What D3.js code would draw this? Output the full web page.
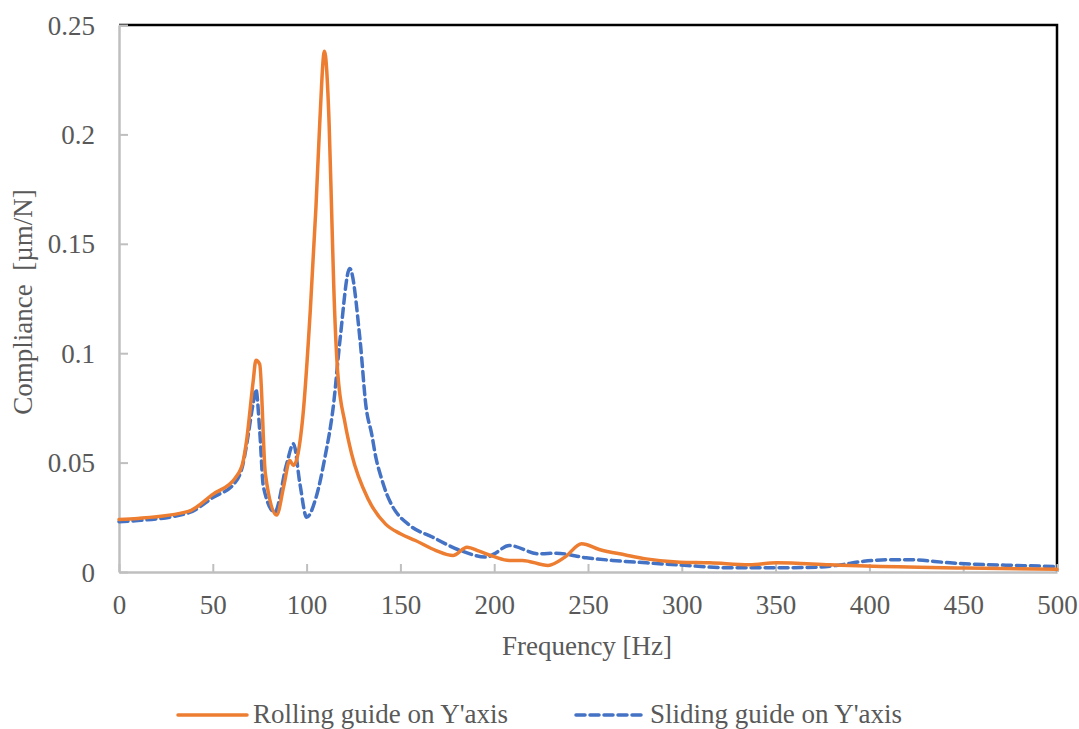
<!DOCTYPE html>
<html>
<head>
<meta charset="utf-8">
<script src="https://cdn.jsdelivr.net/npm/d3@7"></script>
<style>
  html, body { margin: 0; padding: 0; background: #fff; }
  svg { display: block; }
  text { font-family: "Liberation Serif", "Times New Roman", serif; fill: #595959; white-space: pre; }
</style>
</head>
<body>
<svg id="chart" width="1079" height="729"></svg>
<script>
// Frequency response: compliance vs excitation frequency
const rollingFreq = [0, 10, 37, 50, 62, 66, 68, 71.5, 73, 75, 78, 84, 88, 91, 93, 98, 102, 105, 107, 109.5, 112, 113.5, 114.5, 116.6, 120.5, 124, 133, 142, 150, 158, 169, 178, 185.5, 192, 200, 208, 215, 228.7, 237.7, 246.6, 256, 270, 281, 299, 315, 336, 350.6, 379, 398.5, 452, 500];
const rollingComp = [0.024, 0.0245, 0.0277, 0.0355, 0.043, 0.05, 0.06, 0.087, 0.0968, 0.095, 0.045, 0.026, 0.04, 0.051, 0.0487, 0.071, 0.12, 0.167, 0.205, 0.238, 0.205, 0.16, 0.13, 0.091, 0.068, 0.054, 0.033, 0.022, 0.0175, 0.0144, 0.0098, 0.0075, 0.0113, 0.0095, 0.007, 0.0053, 0.0053, 0.003, 0.0068, 0.0129, 0.0103, 0.0078, 0.006, 0.0045, 0.0042, 0.0033, 0.0042, 0.0033, 0.0027, 0.0018, 0.0012];

const slidingFreq = [0, 10, 37, 50, 62, 66, 68, 71.5, 73, 75, 77, 83, 89.4, 93, 96.5, 100, 105, 109.8, 114.2, 117.8, 123, 128.5, 131.7, 134.7, 137, 139.5, 143, 146, 155, 167, 182, 196, 200, 208, 224, 233, 249, 263, 281, 297, 327, 345, 372, 382.5, 397, 411, 421.6, 443, 460.7, 478.5, 500];
const slidingComp = [0.023, 0.0235, 0.027, 0.034, 0.041, 0.049, 0.058, 0.077, 0.0834, 0.0646, 0.0388, 0.0274, 0.0495, 0.0586, 0.04, 0.025, 0.034, 0.0525, 0.0754, 0.106, 0.1387, 0.106, 0.0754, 0.063, 0.052, 0.044, 0.035, 0.0297, 0.0213, 0.016, 0.0098, 0.0068, 0.0083, 0.0121, 0.0083, 0.0086, 0.0065, 0.0053, 0.0042, 0.0033, 0.0019, 0.0019, 0.0022, 0.003, 0.0049, 0.0056, 0.0056, 0.0042, 0.0034, 0.003, 0.0025];

const xTicks = [0, 50, 100, 150, 200, 250, 300, 350, 400, 450, 500];
const yTicks = [0, 0.05, 0.1, 0.15, 0.2, 0.25];
const yTickLabels = ["0", "0.05", "0.1", "0.15", "0.2", "0.25"];

const seriesNames = ["Rolling guide on Y'axis", "Sliding guide on Y'axis"];
const seriesColors = ["#ED7D31", "#4472C4"];

const margin = { left: 119, right: 22, top: 25, bottom: 157 };
const W = 1079, H = 729;
const svg = d3.select("#chart");

const x = d3.scaleLinear().domain([0, 500]).range([margin.left, W - margin.right]);
const y = d3.scaleLinear().domain([0, 0.25]).range([H - margin.bottom, margin.top]);

// Black top and right frame
svg.append("path")
  .attr("d", `M${x(0)},${y(0.25)}H${x(500)}V${y(0)}`)
  .attr("fill", "none").attr("stroke", "#000").attr("stroke-width", 2.5);

// Bottom axis with inward ticks
const xAxis = svg.append("g").attr("transform", `translate(0,${y(0)})`)
  .call(d3.axisBottom(x).tickValues(xTicks).tickSize(-8).tickSizeOuter(0).tickFormat(d3.format("d")));
xAxis.select(".domain").attr("stroke", "#bfbfbf").attr("stroke-width", 2.5);
xAxis.selectAll(".tick line").attr("stroke", "#bfbfbf").attr("stroke-width", 2);
xAxis.selectAll(".tick text").attr("y", 0).attr("dy", "42").attr("font-size", 27)
  .style("font-family", "'Liberation Serif', serif").attr("fill", "#595959");

// Left axis with inward ticks
const yAxis = svg.append("g").attr("transform", `translate(${x(0)},0)`)
  .call(d3.axisLeft(y).tickValues(yTicks).tickSize(-9).tickSizeOuter(0)
    .tickFormat((d, i) => yTickLabels[i]));
yAxis.select(".domain").attr("stroke", "#bfbfbf").attr("stroke-width", 2.5);
yAxis.selectAll(".tick line").attr("stroke", "#bfbfbf").attr("stroke-width", 2);
yAxis.selectAll(".tick text").attr("x", -24).attr("dy", "0.34em").attr("font-size", 27)
  .style("font-family", "'Liberation Serif', serif").attr("fill", "#595959");

// Axis titles
svg.append("text").attr("x", 587).attr("y", 655).attr("text-anchor", "middle")
  .attr("font-size", 27).text("Frequency [Hz]");
svg.append("text").attr("transform", `translate(32,302) rotate(-90)`).attr("text-anchor", "middle")
  .attr("font-size", 27).text("Compliance  [µm/N]");

// Series lines
const line = d3.line().x(d => x(d[0])).y(d => y(d[1])).curve(d3.curveMonotoneX);
const rolling = rollingFreq.map((f, i) => [f, rollingComp[i]]);
const sliding = slidingFreq.map((f, i) => [f, slidingComp[i]]);

svg.append("path").datum(sliding).attr("d", line)
  .attr("fill", "none").attr("stroke", seriesColors[1]).attr("stroke-width", 3.5)
  .attr("stroke-dasharray", "9,5").attr("stroke-linecap", "round");
svg.append("path").datum(rolling).attr("d", line)
  .attr("fill", "none").attr("stroke", seriesColors[0]).attr("stroke-width", 3.5)
  .attr("stroke-linejoin", "round").attr("stroke-linecap", "round");

// Legend
const legendItems = [
  { x0: 178, x1: 247, tx: 253, dash: null },
  { x0: 576, x1: 645, tx: 650, dash: "9,5" }
];
legendItems.forEach((it, i) => {
  svg.append("line").attr("x1", it.x0).attr("x2", it.x1).attr("y1", 715).attr("y2", 715)
    .attr("stroke", seriesColors[i]).attr("stroke-width", 3.5)
    .attr("stroke-dasharray", it.dash).attr("stroke-linecap", "round");
  svg.append("text").attr("x", it.tx).attr("y", 723).attr("font-size", 27).text(seriesNames[i]);
});
</script>
</body>
</html>
